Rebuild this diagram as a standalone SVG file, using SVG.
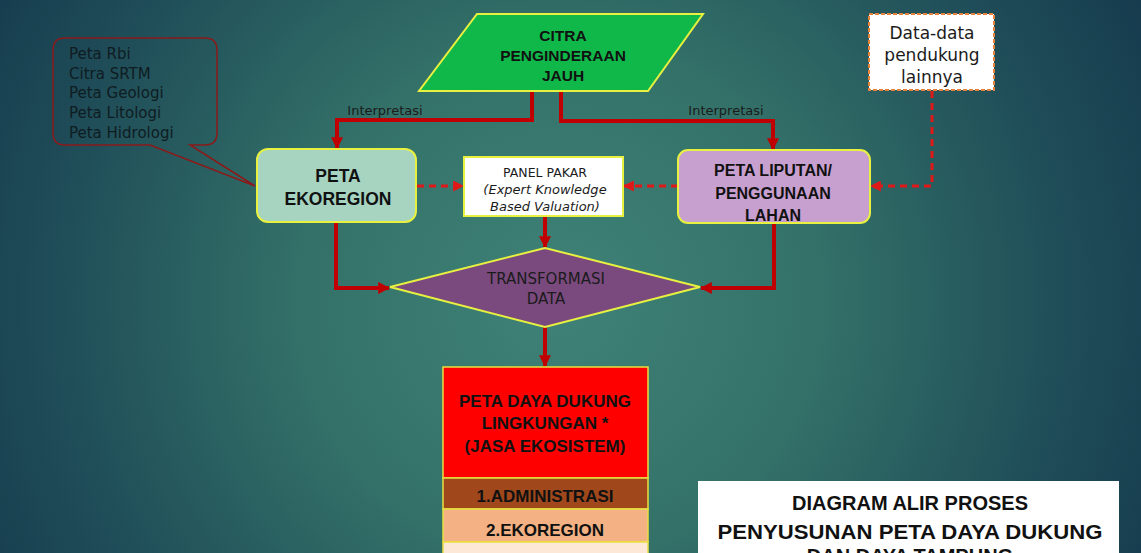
<svg xmlns="http://www.w3.org/2000/svg" width="1141" height="553" viewBox="0 0 1141 553">
<defs>
<radialGradient id="bg" cx="560" cy="300" r="720" gradientUnits="userSpaceOnUse">
<stop offset="0" stop-color="#3f8277"/>
<stop offset="0.35" stop-color="#347269"/>
<stop offset="0.7" stop-color="#1f4d58"/>
<stop offset="1" stop-color="#12344a"/>
</radialGradient>
<marker id="ah" viewBox="0 0 10 10" refX="9" refY="5" markerWidth="12" markerHeight="12" markerUnits="userSpaceOnUse" orient="auto">
<path d="M0,0 L10,5 L0,10 z" fill="#c00000"/>
</marker>
<marker id="ahd" viewBox="0 0 10 10" refX="9" refY="5" markerWidth="11" markerHeight="11" markerUnits="userSpaceOnUse" orient="auto">
<path d="M0,0 L10,5 L0,10 z" fill="#e01818"/>
</marker>
</defs>
<style>
.solid{fill:none;stroke:#c00000;stroke-width:4}
.dash{fill:none;stroke:#e01818;stroke-width:3;stroke-dasharray:7,5}
.b{font-family:"Liberation Sans",Arial,sans-serif;font-weight:bold;fill:#111;text-anchor:middle}
.r{font-family:"DejaVu Sans","Liberation Sans",sans-serif;fill:#1b1b1b;text-anchor:middle}
.ys{stroke:#e8f040;stroke-width:2}
</style>
<rect width="1141" height="553" fill="url(#bg)"/>

<g id="connectors">
<path class="solid" d="M532,91 V120 H337 V148" marker-end="url(#ah)"/>
<path class="solid" d="M561,91 V121 H773 V149" marker-end="url(#ah)"/>
<path class="solid" d="M336,222 V288 H389" marker-end="url(#ah)"/>
<path class="solid" d="M774,223 V288 H701" marker-end="url(#ah)"/>
<path class="solid" d="M545,216 V247" marker-end="url(#ah)"/>
<path class="solid" d="M545,327 V366" marker-end="url(#ah)"/>
<path class="dash" d="M417,186 H463" marker-end="url(#ahd)"/>
<path class="dash" d="M678,186 H624" marker-end="url(#ahd)"/>
<path class="dash" d="M932,91 V186 H871" marker-end="url(#ahd)"/>
<text class="r" x="385" y="115" font-size="13" fill="#141c1c">Interpretasi</text>
<text class="r" x="726" y="115" font-size="13" fill="#141c1c">Interpretasi</text>
</g>

<g id="callout">
<path d="M65,38 H205 Q217,38 217,50 V133 Q217,145 205,145 H190 L255,186 L150,145 H65 Q53,145 53,133 V50 Q53,38 65,38 Z" fill="none" stroke="#8b1a1a" stroke-width="1.5"/>
<g font-family="DejaVu Sans,'Liberation Sans',sans-serif" font-size="15" fill="#0f1c22">
<text x="69" y="59">Peta Rbi</text>
<text x="69" y="79">Citra SRTM</text>
<text x="69" y="98">Peta Geologi</text>
<text x="69" y="118">Peta Litologi</text>
<text x="69" y="138">Peta Hidrologi</text>
</g>
</g>

<g id="citra">
<polygon points="477,14 703,14 648,91 419,91" fill="#10b84a" class="ys"/>
<text class="b" x="563" y="41" font-size="15.5">CITRA</text>
<text class="b" x="563" y="61" font-size="15.5">PENGINDERAAN</text>
<text class="b" x="563" y="81" font-size="15.5">JAUH</text>
</g>

<g id="data-pendukung">
<rect x="869" y="14" width="125" height="76" fill="#fff" stroke="#e8823a" stroke-width="2" stroke-dasharray="4,2"/>
<text class="r" x="932" y="39" font-size="17">Data-data</text>
<text class="r" x="932" y="61" font-size="17">pendukung</text>
<text class="r" x="932" y="83" font-size="17">lainnya</text>
</g>

<g id="ekoregion">
<rect x="257" y="149" width="159" height="73" rx="11" fill="#a6d4c1" class="ys"/>
<text class="b" x="338" y="182" font-size="17.5">PETA</text>
<text class="b" x="338" y="205" font-size="17.5">EKOREGION</text>
</g>

<g id="panel-pakar">
<rect x="464" y="157" width="159" height="59" fill="#fff" class="ys"/>
<text class="r" x="545" y="177" font-size="12.5">PANEL PAKAR</text>
<text class="r" x="545" y="194" font-size="13" font-style="italic">(Expert Knowledge</text>
<text class="r" x="545" y="211" font-size="13" font-style="italic">Based Valuation)</text>
</g>

<g id="peta-liputan">
<rect x="678" y="150" width="192" height="73" rx="10" fill="#c8a0cf" class="ys"/>
<text class="b" x="773" y="176" font-size="16">PETA LIPUTAN/</text>
<text class="b" x="773" y="199" font-size="16">PENGGUNAAN</text>
<text class="b" x="773" y="221" font-size="16">LAHAN</text>
</g>

<g id="transformasi">
<polygon points="390,287 545,248 700,287 545,327" fill="#7a4a7e" class="ys"/>
<text class="r" x="546" y="284" font-size="15" fill="#221a26">TRANSFORMASI</text>
<text class="r" x="546" y="304" font-size="15" fill="#221a26">DATA</text>
</g>

<g id="peta-daya-dukung">
<rect x="443" y="367" width="205" height="111" fill="#ff0000" stroke="#e8e040" stroke-width="1.5"/>
<text class="b" x="545" y="407" font-size="17">PETA DAYA DUKUNG</text>
<text class="b" x="545" y="429" font-size="17">LINGKUNGAN *</text>
<text class="b" x="545" y="452" font-size="17">(JASA EKOSISTEM)</text>
</g>

<g id="administrasi">
<rect x="443" y="478" width="205" height="31" fill="#a0481c" stroke="#e8e040" stroke-width="1.5"/>
<text class="b" x="545" y="502" font-size="17">1.ADMINISTRASI</text>
</g>

<g id="ekoregion-2">
<rect x="443" y="509" width="205" height="33" fill="#f4b183" stroke="#e8e040" stroke-width="1.5"/>
<text class="b" x="545" y="536" font-size="17">2.EKOREGION</text>
</g>

<g id="next-item">
<rect x="443" y="542" width="205" height="20" fill="#fde8d8" stroke="#e8e040" stroke-width="1.5"/>
</g>

<g id="title">
<rect x="698" y="481" width="421" height="80" fill="#fff"/>
<text class="b" x="910" y="510" font-size="20">DIAGRAM ALIR PROSES</text>
<text class="b" x="910" y="539" font-size="20" textLength="385" lengthAdjust="spacingAndGlyphs">PENYUSUNAN PETA DAYA DUKUNG</text>
<text class="b" x="910" y="563" font-size="20">DAN DAYA TAMPUNG</text>
</g>
</svg>
